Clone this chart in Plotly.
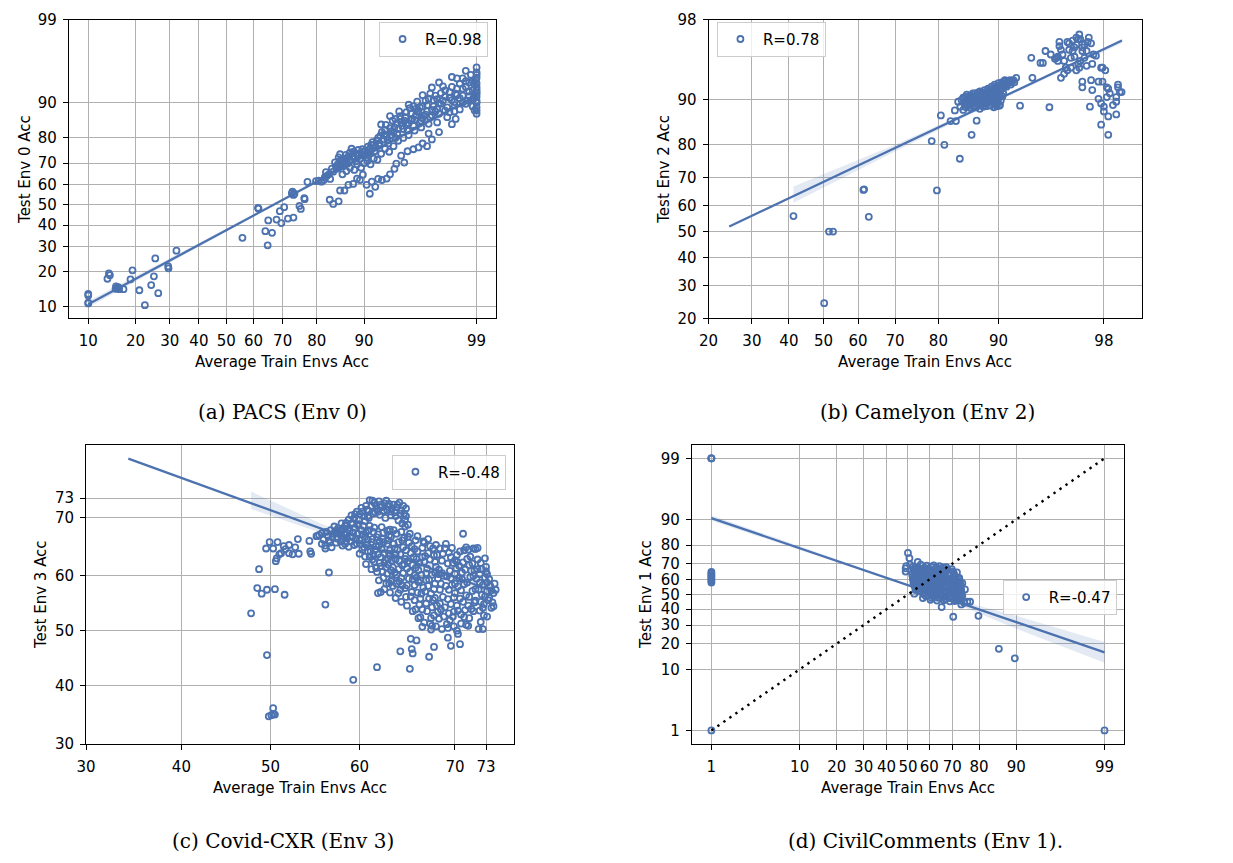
import plotly.graph_objects as go
from statistics import NormalDist

# ------------------------------------------------------------------
# DATA (accuracies in %)
# ------------------------------------------------------------------
# (a) PACS (Env 0): (average train envs acc, test env 0 acc)
pacs_points = [
    (10, 13.2), (10, 12.8), (10, 11.0), (10, 10.8), (13.5, 17.7), (13.8, 19.5), (14.0, 18.9),
    (15.3, 15.3), (15.5, 14.8), (15.8, 15.1), (16.0, 14.5), (15.2, 14.6), (17.0, 14.5),
    (18.7, 17.5), (19.2, 20.6), (21.0, 14.2), (22.5, 10.4), (24.3, 15.7), (25.1, 18.5),
    (25.5, 25.1), (26.4, 13.4), (29.5, 22.0), (29.6, 21.3), (32.2, 28.3),
    (56.0, 34.0), (61.6, 48.5), (61.8, 48.2), (65.2, 42.3), (64.2, 37.1), (65.0, 30.6),
    (66.5, 36.3), (68.0, 42.7), (69.1, 46.9), (70.5, 48.9), (69.6, 41.0), (71.7, 43.2),
    (73.4, 43.7), (73.1, 56.6), (73.4, 55.0), (72.9, 55.8), (73.7, 55.6), (75.2, 49.5),
    (75.6, 48.0), (76.6, 53.4), (76.7, 52.9), (77.5, 61.4), (79.8, 61.8),
    (80.5, 62.0), (81.2, 61.5), (81.8, 62.3), (82.0, 63.5), (82.3, 66.0), (82.5, 64.2),
    (83.0, 65.0), (83.3, 62.8), (83.7, 67.6), (84.0, 66.2), (84.4, 70.4), (84.6, 68.5),
    (85.0, 69.5), (85.2, 72.5), (85.5, 73.8), (85.5, 71.0), (85.8, 70.0), (86.2, 68.8),
    (86.5, 72.0), (86.9, 71.8), (87.2, 73.0), (87.5, 74.5), (87.8, 76.0), (88.1, 73.0),
    (88.4, 72.0), (88.8, 74.0), (89.0, 75.5), (89.3, 72.0), (89.6, 73.5), (89.9, 74.5),
    (90.2, 75.2), (90.4, 72.5), (90.7, 74.0), (90.9, 76.0), (91.1, 77.5), (91.4, 77.3),
    (91.6, 75.0), (91.9, 79.0), (92.1, 80.0), (92.3, 78.0), (92.6, 82.0), (92.8, 79.5),
    (93.0, 82.7), (93.2, 80.5), (93.4, 78.0), (93.6, 83.3), (93.8, 81.0), (94.0, 82.0),
    (94.2, 80.0), (94.3, 84.6), (94.5, 83.0), (94.7, 86.8), (94.7, 86.0), (94.9, 84.0),
    (95.1, 85.5), (95.3, 87.8), (95.4, 82.5), (95.6, 88.8), (95.8, 86.0), (95.9, 89.2),
    (95.9, 84.0), (96.1, 87.0), (96.2, 88.0), (96.4, 89.0), (96.5, 85.5), (96.6, 89.2),
    (96.7, 86.8), (96.8, 90.5), (96.9, 88.0), (97.0, 84.6), (97.1, 91.9), (97.2, 87.0),
    (97.3, 89.2), (97.4, 88.0), (97.5, 90.8), (97.6, 90.0), (97.7, 92.0), (97.8, 90.5),
    (97.9, 92.5), (98.0, 89.0), (98.1, 91.1), (98.2, 93.1), (98.3, 90.2), (98.35, 91.9),
    (98.4, 92.8), (98.5, 93.6), (98.6, 94.4), (98.6, 91.5), (98.7, 93.1), (98.7, 94.0),
    (98.75, 90.5), (98.8, 92.3), (98.85, 94.9), (98.9, 92.5), (98.9, 89.2), (98.93, 91.1),
    (98.95, 93.5), (98.98, 94.2), (99, 95.2), (99, 93.1), (99, 91.9), (99, 90.5), (99, 90.0),
    (99, 87.4), (99, 92.6), (99, 94.5),
    (83.2, 52.6), (84.0, 50.5), (85.2, 51.8), (85.5, 57.2), (86.4, 57.2), (87.2, 60.0),
    (88.1, 60.4), (88.8, 63.0), (89.3, 62.3), (89.8, 64.8), (90.4, 60.0), (90.9, 55.6),
    (91.2, 61.5), (91.7, 59.0), (92.1, 62.8), (92.6, 62.3), (93.2, 63.0), (93.6, 65.0),
    (94.1, 67.5), (94.3, 69.8), (94.8, 73.2), (95.1, 70.3), (95.4, 75.0), (95.9, 75.8),
    (96.3, 76.5), (96.6, 78.0), (96.9, 77.0), (97.2, 79.5), (97.6, 82.0), (98.2, 84.5),
    (98.35, 86.0), (98.3, 88.0),
    (86.0, 65.0), (86.8, 66.5), (87.5, 68.0), (88.3, 67.0), (88.8, 69.5), (89.5, 68.0),
    (90.0, 70.0), (90.5, 71.0), (91.0, 69.5), (91.5, 72.0), (92.0, 71.5), (92.5, 74.0),
    (93.0, 76.0), (93.5, 74.8), (94.0, 77.0), (94.5, 79.0), (95.0, 80.0), (95.5, 81.0),
    (96.0, 82.5), (96.5, 83.5), (97.0, 81.5), (97.5, 85.0), (98.0, 86.5), (98.5, 88.5),
    (84.8, 67.5), (85.3, 68.2), (85.9, 71.5), (86.3, 70.5), (86.7, 73.5), (87.0, 69.8),
    (87.4, 71.2), (87.9, 72.8), (88.2, 74.8), (88.6, 70.8), (88.9, 72.9), (89.2, 73.8),
    (89.7, 75.8), (90.1, 73.5), (90.6, 76.8), (91.0, 74.8), (91.3, 78.5), (91.8, 76.5),
    (92.2, 77.2), (92.4, 80.8), (92.9, 81.2), (93.3, 79.2), (93.7, 82.2), (94.1, 83.5),
    (94.4, 81.5), (94.8, 85.0), (95.0, 83.0), (95.2, 86.5), (95.5, 84.8), (95.7, 87.5),
    (96.0, 85.8), (96.3, 87.8), (96.6, 86.2), (96.9, 89.5), (97.1, 86.5), (97.3, 90.6),
    (97.5, 88.6), (97.7, 89.8), (97.9, 88.2), (98.1, 92.2), (98.3, 89.5), (98.5, 91.0),
    (98.6, 92.8), (98.7, 89.8), (98.8, 93.8), (98.9, 90.8), (99, 89.0), (99, 91.3),
    (99, 93.7), (99, 95.8), (98.95, 88.3), (98.4, 94.4), (98.2, 90.6), (97.8, 93.2),
    (97.4, 91.5), (96.2, 90.3), (95.5, 89.6), (94.6, 88.0), (93.9, 85.5), (93.1, 84.3),
    (95.3, 84.2), (95.7, 85.6), (96.1, 88.6), (96.4, 84.9), (96.8, 87.2), (97.0, 90.9),
    (97.2, 88.4), (97.6, 87.4), (97.9, 91.3), (98.1, 87.8), (98.4, 91.6), (98.6, 90.1),
    (98.8, 91.4), (98.9, 94.0), (99, 88.2), (99, 92.2), (99, 94.9), (98.7, 95.4),
    (98.2, 94.6), (97.6, 93.8), (97.2, 93.0), (96.6, 91.6), (94.2, 86.0), (93.6, 86.8),
    (92.5, 84.4),
]
pacs_fit_x = [10, 99]
pacs_fit_y = [10.6, 91.5]
pacs_band_x = [10, 60, 99]
pacs_band_lo = [9.9, 44.1, 91.0]
pacs_band_hi = [11.4, 45.3, 92.0]
pacs_xticks = [10, 20, 30, 40, 50, 60, 70, 80, 90, 99]
pacs_yticks = [10, 20, 30, 40, 50, 60, 70, 80, 90, 99]

# (b) Camelyon (Env 2)
cam_points = [
    (41.3, 56.0), (51.6, 50.0), (52.8, 50.0), (50.2, 24.4), (61.5, 65.7), (61.7, 65.9),
    (63.0, 55.7), (79.7, 65.5), (78.6, 81.0), (81.2, 80.0), (80.5, 87.0), (82.4, 85.8),
    (83.4, 85.8), (83.2, 88.0), (84.1, 76.0), (86.1, 82.6), (86.9, 85.9), (84.7, 88.1),
    (83.8, 89.6), (92.5, 88.9), (95.1, 88.6), (92.1, 93.2), (93.7, 93.2), (93.6, 95.4),
    (94.4, 94.9), (94.6, 94.9), (94.8, 96.0), (95.2, 95.7), (95.6, 95.4), (95.7, 95.1),
    (95.8, 96.7), (95.9, 93.2),
    (96.1, 95.1), (96.2, 94.4), (96.4, 96.1), (96.3, 96.7), (96.6, 96.8), (96.7, 96.3),
    (96.8, 97.0), (96.9, 96.9), (96.95, 97.2), (97.0, 96.9), (97.1, 96.3), (97.2, 95.4),
    (97.3, 96.0), (97.35, 96.7), (97.4, 97.0), (97.5, 96.6), (96.95, 94.4), (96.8, 94.1),
    (96.5, 94.4), (96.3, 94.1), (96.1, 93.7), (97.3, 94.6), (97.6, 95.7), (97.55, 94.8),
    (97.9, 94.4), (95.9, 96.1), (95.8, 96.4), (96.5, 95.4), (96.7, 95.5), (96.9, 94.8),
    (97.0, 95.1), (97.2, 96.5), (96.4, 96.6), (97.1, 96.0), (95.5, 95.3), (95.7, 95.5),
    (96.0, 95.7), (96.6, 96.0), (96.8, 96.5),
    (97.7, 95.6), (97.95, 94.4), (98.05, 94.1), (97.8, 92.7), (97.95, 92.7), (98.1, 91.9),
    (98.15, 91.7), (97.5, 92.9), (97.1, 92.7), (97.1, 91.9), (97.55, 91.5), (97.8, 90.1),
    (97.9, 89.3), (98.0, 88.7), (98.1, 90.4), (98.15, 86.8), (98.2, 91.0), (98.3, 89.0),
    (98.4, 89.6), (98.45, 91.9), (98.5, 91.2), (98.4, 87.2), (97.45, 88.7), (97.9, 85.0),
    (98.15, 82.6), (98.0, 87.8), (98.55, 91.2), (98.4, 90.4), (98.45, 92.3),
    (85.0, 90.4), (85.1, 89.6), (85.3, 89.0), (85.6, 90.1), (85.7, 89.3), (86.1, 90.6),
    (86.2, 89.6), (86.0, 88.9), (86.6, 91.0), (86.7, 90.2), (86.5, 89.4), (87.1, 91.1),
    (87.0, 90.4), (87.2, 89.7), (87.1, 89.0), (87.7, 91.2), (87.6, 90.5), (87.8, 89.8),
    (87.7, 89.1), (88.1, 91.5), (88.2, 90.7), (88.0, 90.0), (88.1, 89.3), (88.6, 91.7),
    (88.5, 91.0), (88.7, 90.2), (88.6, 89.5), (89.1, 92.0), (89.0, 91.2), (89.2, 90.5),
    (89.1, 89.7), (89.5, 92.3), (89.6, 91.5), (89.4, 90.7), (89.5, 90.0), (89.6, 89.2),
    (90.0, 92.5), (89.9, 91.8), (90.1, 91.0), (90.0, 90.2), (89.9, 89.4), (90.4, 92.6),
    (90.3, 91.5), (90.5, 90.5), (90.8, 92.7), (90.9, 92.2), (91.2, 92.8), (91.1, 92.4),
    (91.6, 92.8), (91.4, 92.6), (84.4, 89.9), (84.7, 90.3), (85.3, 90.8), (89.8, 88.8),
    (90.2, 89.0), (88.3, 88.8), (86.8, 88.6), (84.2, 88.7), (85.8, 88.5), (87.4, 88.3),
    (84.9, 89.2), (85.4, 89.8), (85.5, 90.5), (85.9, 89.0), (86.0, 90.2), (86.3, 91.0),
    (86.4, 89.9), (86.9, 90.8), (86.9, 89.3), (87.3, 90.1), (87.4, 91.3), (87.5, 89.4),
    (87.9, 90.3), (87.9, 91.0), (88.0, 89.6), (88.3, 91.2), (88.4, 90.4), (88.4, 89.8),
    (88.8, 91.4), (88.8, 90.6), (88.9, 89.9), (89.3, 91.7), (89.3, 90.9), (89.3, 90.1),
    (89.7, 92.0), (89.7, 91.2), (89.8, 90.4), (89.8, 89.6), (90.2, 92.2), (90.2, 91.4),
    (90.2, 90.6), (90.3, 89.8), (90.6, 92.4), (90.6, 91.8), (90.6, 91.0), (91.0, 92.5),
    (91.0, 92.0), (91.4, 92.9), (91.5, 92.3), (91.8, 92.9), (90.1, 88.9), (89.4, 88.6),
    (88.9, 88.9), (87.9, 88.7), (86.4, 88.8), (85.2, 88.6), (91.9, 92.6), (90.8, 92.9),
]
cam_fit_x = [24.5, 98.56]
cam_fit_y = [52.0, 96.8]
cam_band_x = [41.3, 70, 90, 98.56]
cam_band_lo = [61.0, 78.1, 89.8, 96.6]
cam_band_hi = [66.9, 80.0, 90.2, 96.9]
cam_xticks = [20, 30, 40, 50, 60, 70, 80, 90, 98]
cam_yticks = [20, 30, 40, 50, 60, 70, 80, 90, 98]

# (c) Covid-CXR (Env 3)
covid_points = [
    (47.8, 53.2), (48.7, 61.2), (48.5, 57.8), (49.0, 56.8), (49.6, 57.5), (49.6, 45.5),
    (49.8, 34.6), (50.1, 34.8), (50.3, 35.0), (50.5, 34.9), (50.3, 36.0), (50.5, 57.6),
    (51.6, 56.6), (59.3, 41.0), (61.9, 43.3), (56.2, 54.8), (56.6, 60.6), (60.0, 63.9),
    (49.5, 64.8), (49.9, 65.9), (50.8, 65.9), (50.3, 64.8), (51.5, 65.2), (51.7, 64.7),
    (52.1, 65.4), (50.6, 62.6), (50.7, 63.1), (51.0, 63.8), (51.2, 64.0), (52.1, 64.0),
    (52.5, 63.8), (53.1, 66.4), (53.2, 63.9), (52.8, 65.0), (54.5, 64.3), (54.6, 63.9),
    (54.4, 66.1), (55.5, 67.1), (56.2, 64.8), (56.0, 66.3), (55.2, 66.9), (55.8, 65.6),
    (55.3, 66.9), (55.8, 67.4), (56.3, 67.6), (56.8, 67.9), (57.2, 68.5), (57.6, 68.2),
    (58.0, 69.0), (58.4, 68.6), (58.8, 69.6), (59.1, 70.3), (59.4, 69.8), (59.7, 70.9),
    (60.0, 70.5), (60.2, 71.5), (60.5, 70.2), (60.8, 71.2), (61.1, 72.7), (61.3, 71.8),
    (61.6, 72.3), (61.9, 71.3), (62.1, 72.5), (62.4, 71.6), (62.7, 72.2), (63.0, 71.1),
    (63.2, 72.1), (63.5, 71.4), (63.8, 70.8), (64.0, 71.6), (64.3, 72.3), (64.5, 71.1),
    (64.8, 70.6), (65.0, 70.2), (64.6, 69.0), (65.2, 68.8), (64.9, 68.5), (62.2, 70.4),
    (61.5, 70.6), (63.4, 70.3), (60.6, 69.4), (59.8, 68.7), (58.7, 68.0), (57.9, 67.7),
    (62.8, 69.9), (61.0, 69.9), (64.2, 69.5),
    (56.2, 65.3), (56.6, 66.2), (57.0, 66.8), (57.4, 65.8), (57.8, 67.2), (58.2, 66.4),
    (57.3, 67.5), (58.6, 67.4), (56.9, 65.0), (58.1, 65.3), (58.5, 66.0), (58.9, 67.7),
    (59.2, 66.8), (59.5, 68.3), (59.8, 67.3), (60.0, 66.2), (59.4, 65.4), (58.8, 65.1),
    (60.2, 67.9), (59.1, 68.9), (60.4, 68.6), (60.6, 66.8), (60.8, 65.5), (61.0, 67.9),
    (61.2, 64.3), (61.4, 66.4), (61.6, 68.3), (61.8, 65.2), (62.0, 67.2), (60.3, 64.6),
    (61.1, 63.4), (62.0, 63.8), (61.6, 62.5), (61.9, 60.7), (62.3, 61.7), (62.2, 66.0),
    (62.4, 64.7), (62.6, 67.5), (62.8, 62.8), (63.0, 65.6), (63.2, 63.9), (63.4, 66.8),
    (63.6, 61.5), (63.8, 64.8), (64.0, 67.3), (62.5, 60.8), (63.1, 62.0), (63.9, 62.9),
    (64.0, 60.2), (63.5, 59.3), (62.9, 58.6), (63.3, 68.0), (64.2, 65.9), (64.4, 63.8),
    (64.6, 61.9), (64.8, 66.6), (65.0, 64.5), (65.2, 62.6), (65.4, 60.7), (65.6, 65.2),
    (65.8, 63.3), (66.0, 61.4), (64.5, 59.6), (65.1, 58.3), (65.7, 59.4), (64.9, 57.8),
    (66.0, 66.2), (65.4, 67.3), (66.2, 64.3), (66.4, 62.3), (66.6, 60.2), (66.8, 57.9),
    (67.0, 63.5), (67.2, 61.3), (67.4, 59.3), (67.6, 56.8), (67.8, 64.8), (68.0, 62.5),
    (66.5, 55.9), (67.1, 55.0), (67.7, 54.3), (68.0, 58.6), (66.9, 65.8), (67.5, 65.2),
    (68.0, 60.6), (66.3, 58.9), (66.7, 53.9), (67.9, 52.8), (68.2, 63.7), (68.4, 61.1),
    (68.6, 58.6), (68.8, 56.2), (69.0, 64.8), (69.2, 59.9), (69.4, 57.5), (69.6, 54.9),
    (69.8, 62.3), (70.0, 60.4), (68.3, 53.5), (68.9, 52.6), (69.5, 51.9), (70.0, 56.9),
    (70.0, 58.6), (68.7, 60.5), (69.3, 62.2), (69.9, 53.5), (68.5, 55.0), (69.7, 64.9),
    (70.2, 62.5), (70.4, 59.6), (70.6, 57.4), (70.8, 55.3), (71.0, 61.1), (71.2, 58.8),
    (71.4, 56.2), (71.6, 54.0), (71.8, 60.0), (72.0, 57.6), (70.3, 53.7), (70.9, 52.5),
    (71.5, 63.4), (70.5, 64.3), (72.0, 55.5), (71.1, 65.0), (71.7, 62.2), (72.2, 61.2),
    (72.4, 58.8), (72.6, 56.6), (72.9, 59.7), (73.1, 57.3), (73.4, 58.2), (73.7, 56.9),
    (73.2, 55.6), (72.8, 54.9), (73.9, 57.5), (72.5, 62.3), (72.9, 63.1),
    (70.8, 67.3), (71.3, 64.6), (71.8, 64.8), (72.0, 64.7), (72.2, 64.9), (73.0, 60.8),
    (73.1, 60.3), (72.7, 54.2), (73.5, 54.2), (73.7, 54.5), (73.1, 52.6), (72.5, 51.6),
    (72.3, 50.3), (72.7, 50.3), (71.1, 51.1), (71.3, 50.9), (70.2, 50.0), (70.3, 49.4),
    (70.5, 47.5), (69.3, 48.7), (69.6, 47.2), (67.9, 47.0), (67.4, 45.2), (67.7, 50.9),
    (67.6, 50.2), (66.7, 50.7), (66.1, 48.2), (65.5, 48.5), (65.6, 46.6), (65.7, 45.8),
    (65.4, 43.0), (64.4, 46.2), (66.0, 53.9), (66.5, 52.5), (65.9, 55.6), (65.5, 56.3),
    (64.2, 56.9), (62.3, 57.1), (62.0, 56.9), (63.2, 58.7), (63.4, 59.0), (64.3, 59.0),
    (58.3, 67.3), (58.6, 66.6), (59.0, 66.0), (59.3, 67.5), (59.6, 66.5), (59.9, 68.9),
    (58.4, 65.6), (59.7, 65.6), (60.1, 65.6), (60.3, 67.2), (60.5, 65.0), (60.7, 67.5),
    (60.9, 66.3), (61.1, 68.6), (61.3, 65.9), (61.5, 67.6), (61.7, 64.6), (61.9, 66.7),
    (60.6, 63.4), (61.4, 62.9), (61.8, 61.4), (60.9, 64.3), (61.3, 61.2), (62.1, 65.3),
    (62.3, 63.3), (62.5, 66.4), (62.7, 64.0), (62.9, 61.5), (63.1, 66.2), (63.3, 64.5),
    (63.5, 62.7), (63.7, 65.6), (63.9, 63.7), (62.2, 62.3), (62.6, 59.7), (63.0, 60.4),
    (63.4, 61.0), (63.8, 60.6), (62.4, 68.4), (63.0, 67.8), (63.7, 67.9), (63.6, 58.2),
    (64.0, 58.6), (64.1, 64.6), (64.3, 62.6), (64.5, 67.6), (64.7, 65.0), (64.9, 63.0),
    (65.1, 61.3), (65.3, 65.8), (65.5, 64.0), (65.7, 61.9), (65.9, 60.1), (64.2, 61.2),
    (64.7, 60.5), (65.3, 59.5), (65.9, 58.3), (64.4, 57.5), (65.6, 57.1), (65.0, 56.2),
    (64.8, 62.1), (65.9, 64.7), (66.1, 63.0), (66.3, 61.0), (66.5, 59.2), (66.7, 64.9),
    (66.9, 62.5), (67.1, 60.5), (67.3, 58.2), (67.5, 62.9), (67.7, 60.2), (67.9, 57.6),
    (66.2, 57.0), (66.6, 56.8), (67.0, 57.2), (67.4, 55.9), (67.8, 55.6), (66.4, 54.8),
    (67.2, 53.6), (67.6, 52.3), (68.0, 56.0), (66.8, 66.0), (67.3, 64.0), (67.9, 63.6),
    (68.1, 61.6), (68.3, 59.5), (68.5, 57.5), (68.7, 62.7), (68.9, 60.0), (69.1, 58.2),
    (69.3, 55.8), (69.5, 60.9), (69.7, 58.4), (69.9, 56.1), (68.2, 54.6), (68.6, 53.9),
    (69.0, 54.3), (69.4, 53.2), (69.8, 52.6), (68.4, 52.2), (69.2, 51.2), (68.8, 63.9),
    (69.6, 63.3), (70.0, 62.8), (68.1, 65.4), (69.4, 64.1), (70.1, 61.3), (70.3, 58.1),
    (70.5, 55.9), (70.7, 60.6), (70.9, 58.5), (71.1, 56.5), (71.3, 54.6), (71.5, 59.8),
    (71.7, 57.3), (71.9, 55.2), (70.2, 54.6), (70.6, 53.0), (71.0, 53.8), (71.4, 52.3),
    (71.8, 53.6), (70.4, 61.8), (71.2, 63.0), (71.9, 61.0), (70.8, 62.4), (71.6, 60.9),
    (72.1, 59.5), (72.3, 57.5), (72.5, 55.3), (72.7, 58.4), (72.9, 56.3), (73.1, 58.8),
    (73.3, 56.0), (73.5, 57.4), (72.4, 53.7), (72.8, 52.8), (72.6, 61.2), (73.0, 61.6),
    (73.6, 55.2), (72.2, 62.9), (56.5, 66.9), (57.1, 67.3), (57.5, 66.5), (57.9, 66.0),
    (58.0, 67.9), (56.7, 65.8), (60.3, 70.9), (60.7, 71.8), (61.0, 71.0), (61.4, 72.6),
    (61.8, 71.9), (62.0, 70.9), (62.3, 72.0), (62.6, 71.0), (62.9, 72.6), (63.1, 71.7),
    (63.4, 70.9), (63.7, 72.0), (64.1, 72.0), (64.4, 70.6), (64.7, 71.8), (65.0, 71.4),
    (59.5, 70.5), (59.9, 69.5), (60.9, 70.2), (61.7, 70.8), (63.9, 70.2), (64.9, 69.6),
    (58.5, 69.1), (59.2, 69.1), (58.1, 68.2), (57.5, 67.8),
    (62.1, 59.2), (62.7, 57.6), (63.3, 57.0), (63.9, 56.0), (64.5, 55.3), (65.1, 54.6),
    (65.7, 53.6), (66.3, 52.3), (66.9, 51.5), (67.5, 51.3), (68.1, 50.8), (68.7, 50.3),
    (69.3, 50.5), (69.9, 50.8), (70.6, 51.3), (62.6, 65.9), (63.2, 67.0), (64.6, 66.2),
    (65.2, 66.8), (66.2, 66.9), (66.7, 63.3), (67.3, 66.4), (68.5, 64.8), (69.1, 65.6),
    (70.2, 63.7), (70.9, 64.5), (71.4, 61.9), (72.4, 60.3), (73.3, 59.4), (73.8, 58.6),
    (70.7, 59.4), (69.6, 59.6), (68.4, 60.3), (67.1, 59.2), (66.1, 59.7), (64.6, 58.3),
    (63.1, 63.0), (62.7, 62.3), (61.5, 63.8), (60.7, 62.1),
]
covid_fit_x = [34.3, 73.9]
covid_fit_y = [78.7, 57.1]
covid_band_x = [47.8, 56, 63, 73.9]
covid_band_lo = [71.3, 67.3, 64.2, 56.3]
covid_band_hi = [74.0, 68.8, 64.8, 57.9]
covid_xticks = [30, 40, 50, 60, 70, 73]
covid_yticks = [30, 40, 50, 60, 70, 73]

# (d) CivilComments (Env 1)
civil_points = [
    (1, 99), (1, 99), (1, 99), (1, 58), (1, 59), (1, 60), (1, 61), (1, 62), (1, 63),
    (1, 64), (1, 65), (1, 1), (99, 1),
    (50.0, 76.1), (50.7, 73.2), (48.9, 67.2), (48.9, 65.2), (49.2, 68.5), (54.6, 71.0),
    (65.5, 41.4), (70.4, 35.1), (79.8, 35.7), (85.9, 17.6), (89.7, 13.7), (75.0, 53.4),
    (75.9, 45.0), (76.9, 45.0), (73.6, 43.2), (74.7, 44.3), (72.0, 46.4), (71.0, 45.5),
    (51.0, 69.5), (52.5, 68.2),
    (52.0, 63.5), (52.3, 60.2), (52.6, 57.5), (52.9, 65.8), (53.2, 55.3), (53.5, 62.0),
    (53.8, 67.2), (54.1, 58.6), (54.4, 53.8), (54.7, 64.5), (55.0, 60.8), (55.3, 56.2),
    (55.6, 66.8), (55.9, 62.7), (56.2, 52.4), (56.5, 58.9), (56.8, 64.9), (57.1, 55.0),
    (57.4, 61.3), (57.7, 67.6), (58.0, 50.8), (58.3, 57.4), (58.6, 63.0), (58.9, 53.7),
    (59.2, 59.8), (59.5, 66.0), (59.8, 49.7), (60.1, 55.9), (60.4, 62.4), (60.7, 68.3),
    (61.0, 52.3), (61.3, 58.4), (61.6, 64.2), (61.9, 48.6), (62.2, 55.1), (62.5, 60.7),
    (62.8, 66.9), (63.1, 51.0), (63.4, 57.2), (63.7, 63.3), (64.0, 47.7), (64.3, 53.6),
    (64.6, 59.5), (64.9, 65.6), (65.2, 49.8), (65.5, 56.0), (65.8, 62.1), (66.1, 67.8),
    (66.4, 52.2), (66.7, 58.1), (67.0, 64.4), (67.3, 48.4), (67.6, 54.6), (67.9, 60.5),
    (68.2, 66.5), (68.5, 50.6), (68.8, 56.7), (69.1, 62.9), (69.4, 47.3), (69.7, 53.1),
    (70.0, 59.2), (70.3, 65.0), (70.6, 49.5), (70.9, 55.5), (71.2, 61.6), (71.5, 51.8),
    (71.8, 57.9), (72.1, 47.0), (72.4, 54.2), (72.7, 60.3), (73.0, 50.3), (73.3, 56.4),
    (73.6, 52.7), (74.0, 49.0), (53.0, 50.5), (57.0, 47.5), (60.5, 46.3), (63.5, 45.8),
    (66.5, 46.0), (69.0, 45.3), (62.0, 69.0), (64.5, 68.6), (58.8, 68.8), (56.0, 69.5),
    (67.5, 68.0), (70.8, 63.0), (72.8, 61.1), (72.2, 58.7),
    (52.2, 61.8), (52.5, 66.6), (52.8, 59.0), (53.1, 63.9), (53.4, 57.1), (53.7, 65.4),
    (54.0, 61.3), (54.3, 55.6), (54.6, 67.9), (54.9, 62.9), (55.2, 58.4), (55.5, 64.6),
    (55.8, 54.4), (55.4, 52.0), (53.6, 53.0), (56.1, 60.9), (56.4, 63.5), (56.7, 56.9),
    (57.0, 66.2), (57.3, 59.2), (57.6, 53.1), (57.9, 64.2), (58.2, 61.5), (58.5, 55.3),
    (58.8, 66.9), (59.1, 62.1), (59.4, 51.8), (59.7, 57.9), (59.9, 64.0), (57.2, 50.2),
    (58.4, 48.8), (60.2, 60.3), (60.5, 53.9), (60.8, 66.1), (61.1, 56.3), (61.4, 62.5),
    (61.7, 50.4), (62.0, 58.0), (62.3, 64.5), (62.6, 52.9), (62.9, 59.0), (63.2, 67.9),
    (63.5, 54.9), (63.8, 61.1), (64.1, 49.9), (64.2, 65.7), (61.2, 47.6), (63.0, 48.5),
    (64.4, 57.6), (64.7, 51.7), (65.0, 63.6), (65.3, 54.0), (65.6, 60.0), (65.9, 48.1),
    (66.2, 65.9), (66.5, 56.2), (66.8, 62.4), (67.1, 50.8), (67.4, 58.6), (67.7, 66.6),
    (68.0, 52.8), (65.1, 67.0), (67.2, 46.8), (68.3, 63.8), (68.6, 58.9), (68.9, 49.1),
    (69.2, 55.0), (69.5, 61.0), (69.8, 66.7), (70.1, 51.4), (70.4, 57.4), (70.7, 63.9),
    (71.0, 48.3), (71.3, 53.6), (71.6, 59.6), (71.9, 64.7), (72.2, 51.0), (72.5, 56.8),
    (72.8, 48.8), (73.1, 59.0), (73.4, 54.4), (73.7, 50.1), (74.0, 57.6), (71.4, 46.6),
    (73.0, 45.9),
]
civil_fit_x = [1, 99]
civil_fit_y = [90.4, 16.1]
civil_band_x = [1, 30, 60, 70, 80, 90, 99]
civil_band_lo = [89.6, 65.2, 50.7, 44.7, 37.5, 27.9, 12.1]
civil_band_hi = [91.2, 67.0, 51.9, 47.1, 42.1, 35.7, 20.8]
civil_diag = [1, 99]
civil_xticks = [1, 10, 20, 30, 40, 50, 60, 70, 80, 90, 99]
civil_yticks = [1, 10, 20, 30, 40, 50, 60, 70, 80, 90, 99]

labels_r = ["R=0.98", "R=0.78", "R=-0.48", "R=-0.47"]
y_titles = ["Test Env 0 Acc", "Test Env 2 Acc", "Test Env 3 Acc", "Test Env 1 Acc"]
x_title = "Average Train Envs Acc"
captions = ["(a) PACS (Env 0)", "(b) Camelyon (Env 2)", "(c) Covid-CXR (Env 3)",
            "(d) CivilComments (Env 1)."]

# ------------------------------------------------------------------
# probit scale helpers
# ------------------------------------------------------------------
_nd = NormalDist()


def probit(v):
    return _nd.inv_cdf(v / 100.0)


W, H = 1233, 863
BLUE = "#4C72B0"
BAND = "rgba(76,114,176,0.15)"


def fx(p):
    return p / W


def fy(p):
    return 1 - p / H


panels = [
    dict(pts=pacs_points, fx_=pacs_fit_x, fy_=pacs_fit_y, bx=pacs_band_x, blo=pacs_band_lo,
         bhi=pacs_band_hi, xt=pacs_xticks, yt=pacs_yticks,
         box=(59.3, 11, 490, 316), xr=(-1.462, 2.507), yr=(-1.425, 2.3263),
         leg=dict(x=fx(482), y=fy(13), xanchor="right"), ytx=15, cap=(275, 412)),
    dict(pts=cam_points, fx_=cam_fit_x, fy_=cam_fit_y, bx=cam_band_x, blo=cam_band_lo,
         bhi=cam_band_hi, xt=cam_xticks, yt=cam_yticks,
         box=(704.3, 11, 1141, 316), xr=(-0.8416, 2.331), yr=(-0.8416, 2.0537),
         leg=dict(x=fx(712.7), y=fy(13), xanchor="left"), ytx=659, cap=(925, 412)),
    dict(pts=covid_points, fx_=covid_fit_x, fy_=covid_fit_y, bx=covid_band_x, blo=covid_band_lo,
         bhi=covid_band_hi, xt=covid_xticks, yt=covid_yticks,
         box=(76.7, 445, 508, 750.7), xr=(-0.5244, 0.692), yr=(-0.5244, 0.860),
         leg=dict(x=fx(500), y=fy(455), xanchor="right"), ytx=32, cap=(275, 850)),
    dict(pts=civil_points, fx_=civil_fit_x, fy_=civil_fit_y, bx=civil_band_x, blo=civil_band_lo,
         bhi=civil_band_hi, xt=civil_xticks, yt=civil_yticks,
         box=(687.3, 445, 1123.3, 750.7), xr=(-2.559, 2.559), yr=(-2.559, 2.559),
         leg=dict(x=fx(1115.7), y=fy(583), xanchor="right"), ytx=641.7, cap=(923, 850)),
]

fig = go.Figure()
layout = dict(
    width=W, height=H, margin=dict(l=0, r=0, t=0, b=0),
    paper_bgcolor="white", plot_bgcolor="white",
    font=dict(family="DejaVu Sans", size=15, color="black"),
    showlegend=True, annotations=[],
)

axis_common = dict(
    showgrid=True, gridcolor="#b0b0b0", gridwidth=1, zeroline=False,
    showline=True, linecolor="black", linewidth=1, mirror=True,
    ticks="outside", ticklen=5, tickwidth=1, tickcolor="black",
    tickfont=dict(family="DejaVu Sans", size=15, color="black"),
)

for i, p in enumerate(panels):
    n = i + 1
    xa = "x" if n == 1 else f"x{n}"
    ya = "y" if n == 1 else f"y{n}"
    lg = "legend" if n == 1 else f"legend{n}"
    xs = [probit(a) for a, b in p["pts"]]
    ys = [probit(b) for a, b in p["pts"]]

    fig.add_trace(go.Scatter(
        x=xs, y=ys, mode="markers", name=labels_r[i], xaxis=xa, yaxis=ya, legend=lg,
        marker=dict(symbol="circle-open", size=6, color=BLUE, line=dict(width=1.8, color=BLUE)),
        hoverinfo="skip"))

    fig.add_trace(go.Scatter(
        x=[probit(v) for v in p["fx_"]], y=[probit(v) for v in p["fy_"]], mode="lines",
        line=dict(color=BLUE, width=2.3), xaxis=xa, yaxis=ya, showlegend=False, hoverinfo="skip"))

    bxp = [probit(v) for v in p["bx"]]
    fig.add_trace(go.Scatter(
        x=bxp + bxp[::-1],
        y=[probit(v) for v in p["bhi"]] + [probit(v) for v in p["blo"]][::-1],
        mode="lines", fill="toself", fillcolor=BAND, line=dict(width=0, color=BAND),
        xaxis=xa, yaxis=ya, showlegend=False, hoverinfo="skip"))

    if n == 4:
        fig.add_trace(go.Scatter(
            x=[probit(v) for v in civil_diag], y=[probit(v) for v in civil_diag], mode="lines",
            line=dict(color="black", width=2.4, dash="2.4px,4.9px"),
            xaxis=xa, yaxis=ya, showlegend=False, hoverinfo="skip"))

    x0, y0, x1, y1 = p["box"]
    xaxis = dict(axis_common, domain=[fx(x0), fx(x1)], range=list(p["xr"]), anchor=ya,
                 tickvals=[probit(t) for t in p["xt"]], ticktext=[str(t) for t in p["xt"]],
                 ticklabelstandoff=4)
    yaxis = dict(axis_common, domain=[fy(y1), fy(y0)], range=list(p["yr"]), anchor=xa,
                 tickvals=[probit(t) for t in p["yt"]], ticktext=[str(t) for t in p["yt"]],
                 ticklabelstandoff=3)
    layout["xaxis" if n == 1 else f"xaxis{n}"] = xaxis
    layout["yaxis" if n == 1 else f"yaxis{n}"] = yaxis

    layout[lg] = dict(
        x=p["leg"]["x"], y=p["leg"]["y"], xanchor=p["leg"]["xanchor"], yanchor="top",
        bgcolor="rgba(255,255,255,0.8)", bordercolor="#cccccc", borderwidth=1,
        font=dict(family="DejaVu Sans", size=15, color="black"), itemwidth=35,
    )

    # axis titles
    layout["annotations"].append(dict(
        text=x_title, x=fx((x0 + x1) / 2), y=fy(y1 + 45), xref="paper", yref="paper",
        xanchor="center", yanchor="middle", showarrow=False,
        font=dict(family="DejaVu Sans", size=15, color="black")))
    layout["annotations"].append(dict(
        text=y_titles[i], x=fx(p["ytx"]), y=fy((y0 + y1) / 2), xref="paper", yref="paper",
        xanchor="center", yanchor="middle", showarrow=False, textangle=-90,
        font=dict(family="DejaVu Sans", size=15, color="black")))
    # caption
    layout["annotations"].append(dict(
        text=captions[i], x=fx(p["cap"][0]), y=fy(p["cap"][1]), xref="paper", yref="paper",
        xanchor="center", yanchor="middle", showarrow=False,
        font=dict(family="DejaVu Serif", size=20, color="black")))

fig.update_layout(**layout)
fig.write_html("out.html")
